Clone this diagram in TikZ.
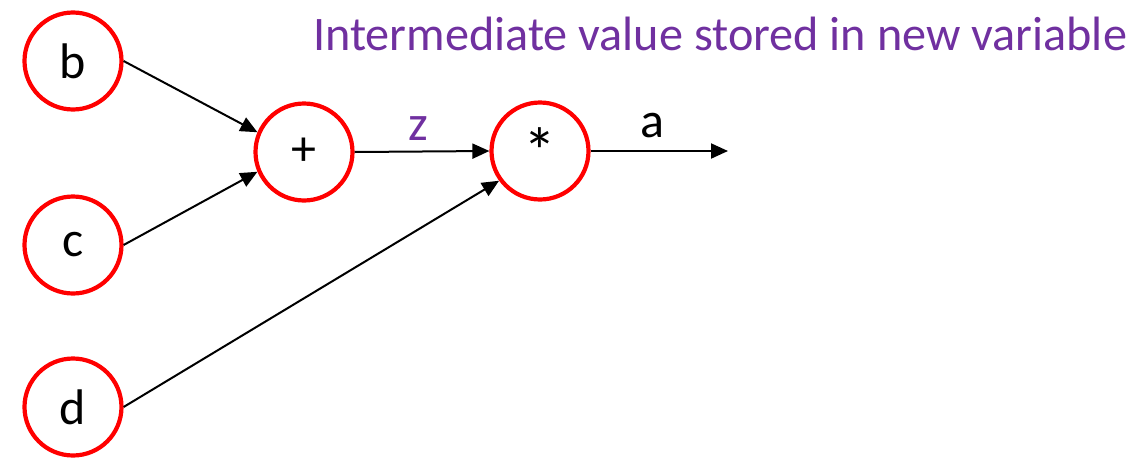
\documentclass[tikz,border=0pt]{standalone}
\usepackage{fontspec}
\setmainfont{Carlito}
\usetikzlibrary{arrows.meta}
\definecolor{offpurple}{HTML}{7030A0}
\begin{document}
\begin{tikzpicture}[x=1pt,y=-1pt,
  lbl/.style={font=\fontsize{50}{54}\selectfont},
  opnode/.style={circle,draw=red,line width=4.2pt,minimum size=97pt,inner sep=0pt,lbl},
  conn/.style={line width=2pt,-{Triangle[length=17pt,width=15pt]}}]
\useasboundingbox (0,0) rectangle (1147,458);
\node[opnode] (b) at (73,61) {b};
\node[opnode] (c) at (73,245) {c};
\node[opnode] (d) at (73,407) {d};
\node[opnode] (plus) at (304,152) {+};
\node[opnode] (times) at (540,151) {\raisebox{-8pt}{\fontsize{66}{70}\selectfont *}};
\coordinate (out) at (728,151);
\draw[conn] (b.east) -- (plus.157);
\draw[conn] (c.east) -- (plus.203);
\draw[conn] (d.east) -- (times.216);
\draw[conn] (plus.east) -- node[above=7pt,xshift=-4pt,text=offpurple,lbl] (zl) {z} (times.west);
\draw[conn] (times.east) -- node[above=9pt,xshift=-7pt,lbl] (al) {a} (out);
\node[anchor=base west,text=offpurple,font=\fontsize{48.2}{52}\selectfont,inner sep=0pt] (title) at (313,50) {Intermediate value stored in new variable};
\end{tikzpicture}
\end{document}
